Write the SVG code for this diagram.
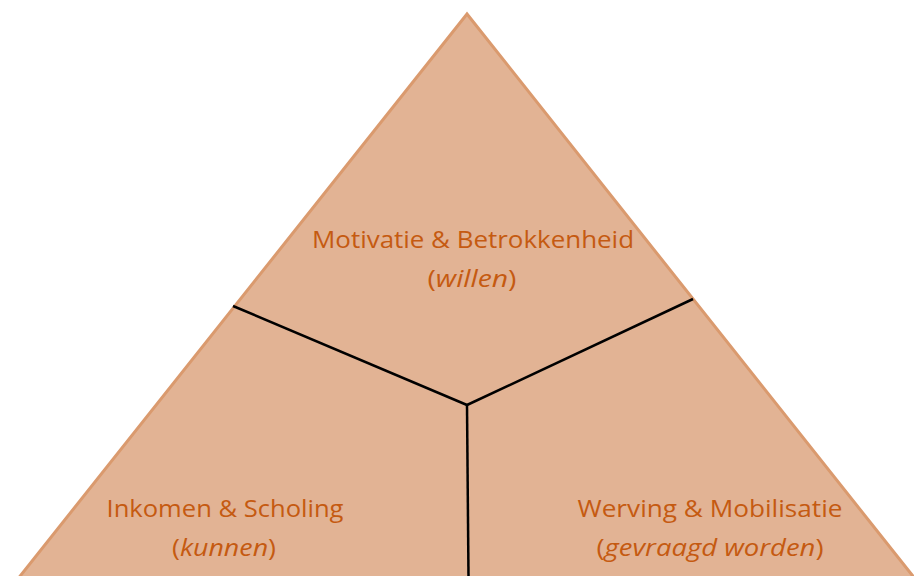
<svg xmlns="http://www.w3.org/2000/svg" width="914" height="576" viewBox="0 0 914 576">
<style>
.t{font-family:"Open Sans","Noto Sans","Liberation Sans",sans-serif;font-size:23px;fill:#C55A11;text-anchor:middle}
.i{font-style:italic}
.c{stroke:#000;stroke-width:2.5;fill:none}
</style>
<rect width="914" height="576" fill="#fff"/>
<g id="pyramid">
<polygon points="467,14 17,580 916,580" fill="#E2B394" stroke="#DA9A6E" stroke-width="3" stroke-linejoin="miter"/>
</g>
<g id="connectors">
<line class="c" x1="233" y1="306" x2="467" y2="405"/>
<line class="c" x1="693" y1="299" x2="467" y2="405"/>
<line class="c" x1="467" y1="405" x2="468.5" y2="577"/>
</g>
<g id="top">
<text class="t" x="473" y="248" textLength="322" lengthAdjust="spacingAndGlyphs">Motivatie &amp; Betrokkenheid</text>
<text class="t" x="472" y="287" textLength="89" lengthAdjust="spacingAndGlyphs">(<tspan class="i">willen</tspan>)</text>
</g>
<g id="left">
<text class="t" x="225" y="517" textLength="237" lengthAdjust="spacingAndGlyphs">Inkomen &amp; Scholing</text>
<text class="t" x="224" y="556" textLength="104" lengthAdjust="spacingAndGlyphs">(<tspan class="i">kunnen</tspan>)</text>
</g>
<g id="right">
<text class="t" x="710" y="517" textLength="265" lengthAdjust="spacingAndGlyphs">Werving &amp; Mobilisatie</text>
<text class="t" x="710" y="556" textLength="227" lengthAdjust="spacingAndGlyphs">(<tspan class="i">gevraagd worden</tspan>)</text>
</g>
</svg>
